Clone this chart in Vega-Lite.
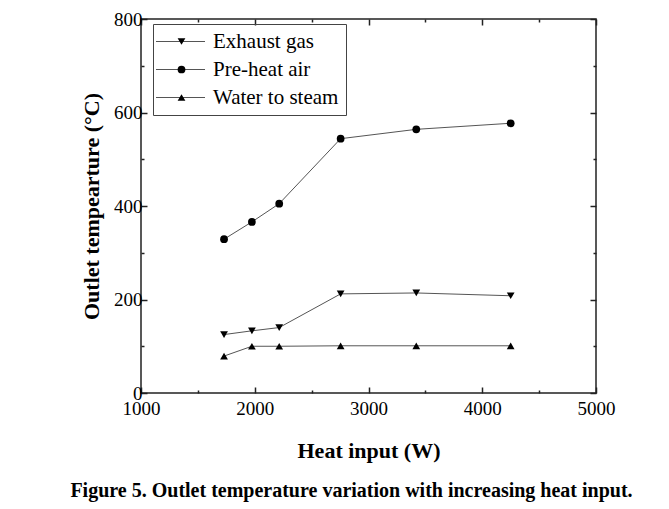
{
  "$schema": "https://vega.github.io/schema/vega-lite/v6.json",
  "width": 455,
  "height": 374,
  "autosize": "none",
  "padding": {"left": 141, "top": 19, "right": 73, "bottom": 116},
  "background": "white",
  "config": {
    "font": "Liberation Serif, Times New Roman, serif",
    "axis": {"labelFont": "Liberation Serif, Times New Roman, serif", "titleFont": "Liberation Serif, Times New Roman, serif"},
    "legend": {"labelFont": "Liberation Serif, Times New Roman, serif"},
    "view": {"stroke": "#222", "strokeWidth": 1.5}
  },
  "title": {
    "text": "Figure 5. Outlet temperature variation with increasing heat input.",
    "orient": "bottom",
    "anchor": "middle",
    "fontSize": 20,
    "fontWeight": "bold",
    "font": "Liberation Serif, Times New Roman, serif",
    "color": "black",
    "offset": 20,
    "dx": -17
  },
  "data": {
    "values": [
      {"series": "Exhaust gas", "heat": 1730, "temp": 125},
      {"series": "Exhaust gas", "heat": 1975, "temp": 133},
      {"series": "Exhaust gas", "heat": 2215, "temp": 140},
      {"series": "Exhaust gas", "heat": 2755, "temp": 212},
      {"series": "Exhaust gas", "heat": 3420, "temp": 214},
      {"series": "Exhaust gas", "heat": 4250, "temp": 208},
      {"series": "Pre-heat air", "heat": 1730, "temp": 329},
      {"series": "Pre-heat air", "heat": 1975, "temp": 366},
      {"series": "Pre-heat air", "heat": 2215, "temp": 405},
      {"series": "Pre-heat air", "heat": 2755, "temp": 544},
      {"series": "Pre-heat air", "heat": 3420, "temp": 564},
      {"series": "Pre-heat air", "heat": 4250, "temp": 577},
      {"series": "Water to steam", "heat": 1730, "temp": 79},
      {"series": "Water to steam", "heat": 1975, "temp": 100},
      {"series": "Water to steam", "heat": 2215, "temp": 100},
      {"series": "Water to steam", "heat": 2755, "temp": 101},
      {"series": "Water to steam", "heat": 3420, "temp": 101},
      {"series": "Water to steam", "heat": 4250, "temp": 101}
    ]
  },
  "layer": [
    {
      "mark": {"type": "line", "strokeWidth": 1},
      "encoding": {
        "x": {
          "field": "heat", "type": "quantitative",
          "scale": {"domain": [1000, 5000], "nice": false, "zero": false},
          "axis": {
            "orient": "bottom",
            "title": "Heat input (W)",
            "titleFontSize": 22, "titleFontWeight": "bold", "titleColor": "black", "titlePadding": 22,
            "values": [1000, 1500, 2000, 2500, 3000, 3500, 4000, 4500, 5000],
            "labelExpr": "datum.value % 1000 === 0 ? datum.value : ''",
            "labelFontSize": 19, "labelColor": "black", "labelPadding": 12,
            "labelFlush": false,
            "domain": false, "grid": false,
            "tickColor": "#222", "tickWidth": 1.5,
            "tickSize": {"condition": {"test": "datum.value % 1000 === 0", "value": -6}, "value": -3}
          }
        },
        "y": {
          "field": "temp", "type": "quantitative",
          "scale": {"domain": [0, 800], "nice": false},
          "axis": {
            "orient": "left",
            "title": "Outlet tempearture (°C)",
            "titleFontSize": 22, "titleFontWeight": "bold", "titleColor": "black", "titlePadding": 10,
            "values": [0, 100, 200, 300, 400, 500, 600, 700, 800],
            "labelExpr": "datum.value % 200 === 0 ? datum.value : ''",
            "labelFontSize": 19, "labelColor": "black", "labelPadding": 5,
            "labelFlush": false,
            "domain": false, "grid": false,
            "tickColor": "#222", "tickWidth": 1.5,
            "tickSize": {"condition": {"test": "datum.value % 200 === 0", "value": -6}, "value": -3}
          }
        },
        "stroke": {
          "field": "series", "type": "nominal",
          "scale": {"range": ["#555", "#555", "#555"]},
          "legend": {
            "title": null,
            "orient": "none",
            "legendX": 12,
            "legendY": 5,
            "strokeColor": "#444",
            "padding": 7,
            "symbolType": "M-4.9,0H4.9",
            "symbolSize": 100,
            "symbolStrokeWidth": 1,
            "symbolOffset": 10,
            "labelOffset": 22,
            "labelFontSize": 21,
            "labelColor": "black",
            "rowPadding": 6
          }
        }
      }
    },
    {
      "mark": {"type": "point", "filled": true, "color": "black", "size": 60, "opacity": 1},
      "encoding": {
        "x": {
          "field": "heat", "type": "quantitative",
          "axis": {
            "orient": "top", "title": null, "labels": false,
            "values": [1000, 1500, 2000, 2500, 3000, 3500, 4000, 4500, 5000],
            "domain": false, "grid": false,
            "tickColor": "#222", "tickWidth": 1.5,
            "tickSize": {"condition": {"test": "datum.value % 1000 === 0", "value": -6}, "value": -3}
          }
        },
        "y": {
          "field": "temp", "type": "quantitative",
          "axis": {
            "orient": "right", "title": null, "labels": false,
            "values": [0, 100, 200, 300, 400, 500, 600, 700, 800],
            "domain": false, "grid": false,
            "tickColor": "#222", "tickWidth": 1.5,
            "tickSize": {"condition": {"test": "datum.value % 200 === 0", "value": -6}, "value": -3}
          }
        },
        "shape": {
          "field": "series", "type": "nominal",
          "scale": {"domain": ["Exhaust gas", "Pre-heat air", "Water to steam"], "range": ["triangle-down", "circle", "triangle-up"]},
          "legend": {
            "title": null,
            "orient": "none",
            "legendX": 12,
            "legendY": 5,
            "padding": 7,
            "symbolSize": 60,
            "symbolFillColor": "black",
            "symbolStrokeColor": "black",
            "symbolStrokeWidth": 1,
            "symbolOffset": 11,
            "labelOffset": 22,
            "labelFontSize": 21,
            "labelOpacity": 0,
            "rowPadding": 6
          }
        }
      }
    }
  ],
  "resolve": {"axis": {"x": "independent", "y": "independent"}}
}
